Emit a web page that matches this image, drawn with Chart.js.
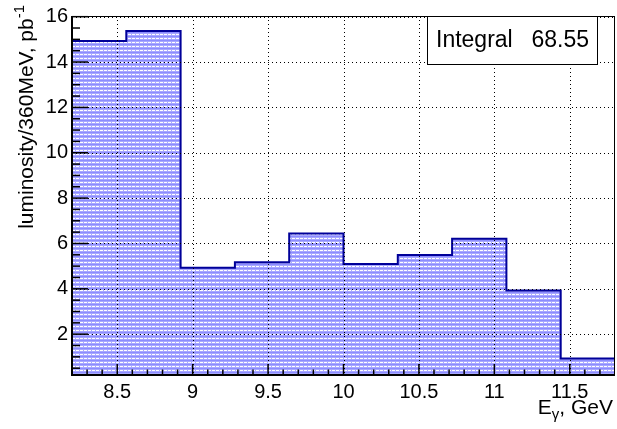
<!DOCTYPE html>
<html>
<head>
<meta charset="utf-8">
<script src="https://cdn.jsdelivr.net/npm/chart.js@4.4.1/dist/chart.umd.min.js"></script>
<style>
  body { margin: 0; background: #fff; }
</style>
</head>
<body>
<canvas id="lumiChart" width="617" height="429"></canvas>
<script>
// histogram: bin edges (GeV) and luminosity per 360 MeV bin (pb^-1)
const binEdges = [8.2, 8.56, 8.92, 9.28, 9.64, 10.0, 10.36, 10.72, 11.08, 11.44, 11.8];
const lumi = [14.93, 15.37, 4.93, 5.17, 6.44, 5.10, 5.49, 6.21, 3.93, 0.93];
const xTicks = [8.5, 9, 9.5, 10, 10.5, 11, 11.5];
const yTicks = [2, 4, 6, 8, 10, 12, 14, 16];
const integralText = '68.55';

const FONT = 'Liberation Sans, Arial, Helvetica, sans-serif';

// stepped points: left edge of every bin + the last right edge
const points = binEdges.map((x, i) => ({ x: x, y: lumi[Math.min(i, lumi.length - 1)] }));

function makeFill() {
  const c = document.createElement('canvas');
  c.width = 4; c.height = 4;
  const g = c.getContext('2d');
  g.fillStyle = '#a8a8ff'; g.fillRect(0, 0, 4, 4);
  g.fillStyle = '#8c8cff'; g.fillRect(0, 0, 4, 1);
  g.fillStyle = '#ffffff'; g.fillRect(0, 2, 3, 1);
  return g.createPattern(c, 'repeat');
}

// ROOT-like frame: dotted grid on top, inward ticks, stats box, titles
const rootFrame = {
  id: 'rootFrame',
  afterDatasetsDraw(chart) {
    const ctx = chart.ctx;
    const a = chart.chartArea;
    const xs = chart.scales.x, ys = chart.scales.y;
    ctx.save();

    // grid
    ctx.strokeStyle = '#000';
    ctx.lineWidth = 1;
    ctx.setLineDash([1, 3]);
    xTicks.forEach(v => {
      const px = Math.round(xs.getPixelForValue(v)) + 0.5;
      ctx.beginPath(); ctx.moveTo(px, a.top); ctx.lineTo(px, a.bottom); ctx.stroke();
    });
    yTicks.forEach(v => {
      const py = Math.round(ys.getPixelForValue(v)) + 0.5;
      ctx.beginPath(); ctx.moveTo(a.left, py); ctx.lineTo(a.right, py); ctx.stroke();
    });
    ctx.setLineDash([]);

    // frame
    ctx.lineWidth = 1;
    ctx.strokeRect(a.left + 0.5, a.top + 0.5, a.right - a.left - 1, a.bottom - a.top - 1);
    ctx.lineWidth = 2;
    ctx.beginPath();
    ctx.moveTo(a.left, a.top); ctx.lineTo(a.left, a.bottom); ctx.lineTo(a.right, a.bottom);
    ctx.stroke();

    // inward ticks
    ctx.lineWidth = 1.5;
    for (let k = 83; k <= 117; k++) {
      const v = k / 10;
      const px = xs.getPixelForValue(v);
      const len = (k % 5 === 0) ? 11 : 5.5;
      ctx.beginPath(); ctx.moveTo(px, a.bottom); ctx.lineTo(px, a.bottom - len); ctx.stroke();
    }
    for (let k = 1; k <= 32; k++) {
      const v = k / 2;
      const py = ys.getPixelForValue(v);
      const len = (k % 4 === 0) ? 16 : 8;
      ctx.beginPath(); ctx.moveTo(a.left, py); ctx.lineTo(a.left + len, py); ctx.stroke();
    }

    // stats box
    ctx.fillStyle = '#fff';
    ctx.fillRect(427, 16, 171, 49);
    ctx.lineWidth = 1;
    ctx.strokeRect(427.5, 16.5, 170, 48);
    ctx.fillStyle = '#000';
    ctx.font = '23px ' + FONT;
    ctx.textBaseline = 'alphabetic';
    ctx.textAlign = 'left';
    ctx.fillText('Integral', 436, 47);
    ctx.textAlign = 'right';
    ctx.fillText(integralText, 589, 47);

    // x title: E_gamma, GeV
    ctx.font = '21px ' + FONT;
    const part2 = ', GeV';
    const w2 = ctx.measureText(part2).width;
    ctx.font = '15px ' + FONT;
    const wg = ctx.measureText('γ').width;
    ctx.font = '21px ' + FONT;
    const xr = 613;
    ctx.textAlign = 'right';
    ctx.fillText(part2, xr, 414);
    ctx.font = '15px ' + FONT;
    ctx.fillText('γ', xr - w2, 419);
    ctx.font = '21px ' + FONT;
    ctx.fillText('E', xr - w2 - wg, 414);

    // y title: luminosity/360MeV, pb^-1
    ctx.translate(33, 0);
    ctx.rotate(-Math.PI / 2);
    ctx.font = '15px ' + FONT;
    const ws = ctx.measureText('-1').width;
    ctx.textAlign = 'right';
    ctx.fillText('-1', -5, -9);
    ctx.font = '21px ' + FONT;
    ctx.fillText('luminosity/360MeV, pb', -5 - ws, 0);

    ctx.restore();
  }
};

new Chart(document.getElementById('lumiChart'), {
  type: 'line',
  data: {
    datasets: [{
      data: points,
      stepped: 'before',
      borderColor: '#000099',
      borderWidth: 2,
      backgroundColor: makeFill(),
      fill: 'origin',
      pointRadius: 0,
      tension: 0
    }]
  },
  options: {
    responsive: false,
    animation: false,
    layout: { padding: { top: 6, right: 2, left: 0, bottom: 0 } },
    plugins: { legend: { display: false }, tooltip: { enabled: false } },
    scales: {
      x: {
        type: 'linear',
        min: 8.2,
        max: 11.8,
        grid: { display: false, drawTicks: false },
        border: { display: false },
        afterBuildTicks: s => { s.ticks = xTicks.map(v => ({ value: v })); },
        afterFit: s => { s.height = 54; },
        ticks: {
          padding: 5,
          maxRotation: 0,
          autoSkip: false,
          color: '#000',
          font: { family: FONT, size: 20 },
          callback: v => String(v)
        }
      },
      y: {
        min: 0.2,
        max: 16.03,
        grid: { display: false, drawTicks: false },
        border: { display: false },
        afterBuildTicks: s => { s.ticks = yTicks.map(v => ({ value: v })); },
        afterFit: s => { s.width = 72; },
        ticks: {
          padding: 4,
          autoSkip: false,
          color: '#000',
          font: { family: FONT, size: 20 },
          callback: v => String(v)
        }
      }
    }
  },
  plugins: [rootFrame]
});
</script>
</body>
</html>
